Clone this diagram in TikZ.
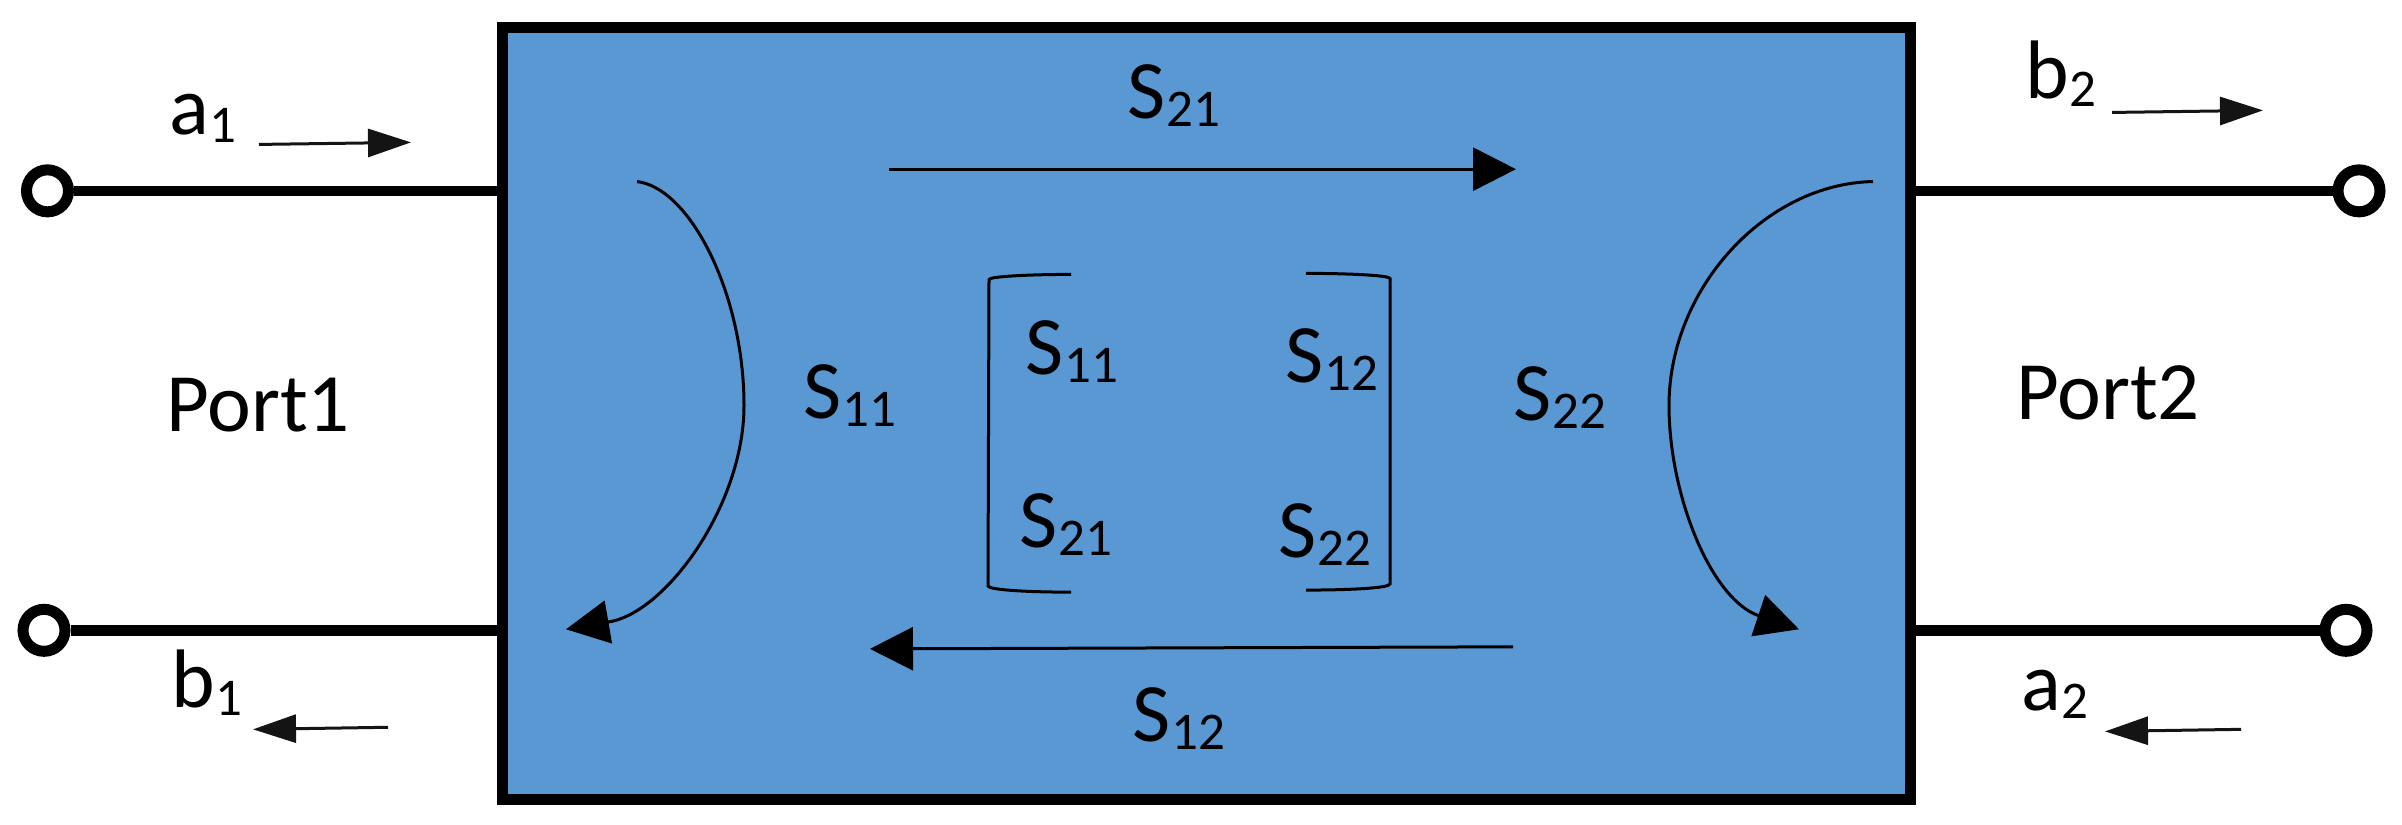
\documentclass[tikz,border=0pt]{standalone}
\usepackage{fontspec}
\setmainfont{Carlito}
\usetikzlibrary{arrows.meta}
\newcommand{\subdig}[1]{\raisebox{-8pt}{\fontsize{53}{55}\selectfont #1}}
\newcommand{\lbl}[2]{#1\kern1pt\subdig{#2}}
\tikzset{
  block/.style={draw=black,line width=11pt,fill=blockblue,minimum width=1408pt,minimum height=772.7pt,inner sep=0pt,anchor=north west},
  terminal/.style={circle,draw=black,line width=11pt,fill=white,minimum size=42pt,inner sep=0pt},
  wire/.style={line width=10.5pt,draw=black},
  txt/.style={anchor=base west,inner sep=0pt,xshift=-5pt,font=\fontsize{83}{86}\selectfont,text=black},
  small arrow/.style={line width=3pt,-{Triangle[length=43pt,width=28pt]},draw=black!92},
  big arrow/.style={line width=3pt,-{Triangle[length=43pt,width=43pt]},draw=black},
  bracket/.style={line width=3pt,draw=black}
}
\definecolor{blockblue}{HTML}{5A98D4}
\begin{document}
\begin{tikzpicture}[x=1pt,y=-1.0316pt]
\useasboundingbox (0,0) rectangle (2402,799.7);
\node[block] (box) at (497,21) {};
\node[terminal] (p1t) at (47.5,185) {};
\node[terminal] (p1b) at (44,611) {};
\node[terminal] (p2t) at (2359,185) {};
\node[terminal] (p2b) at (2346,611) {};
\draw[wire] (p1t) -- (p1t -| box.west);
\draw[wire] (p1b) -- (p1b -| box.west);
\draw[wire] (p2t) -- (p2t -| box.east);
\draw[wire] (p2b) -- (p2b -| box.east);
% small arrows
\coordinate (a1s) at (259,140); \coordinate (a1e) at (411,138);
\coordinate (b1s) at (388,705); \coordinate (b1e) at (253,707);
\coordinate (b2s) at (2112,109); \coordinate (b2e) at (2263,107);
\coordinate (a2s) at (2241,707); \coordinate (a2e) at (2105,709);
\draw[small arrow] (a1s) -- (a1e);
\draw[small arrow] (b1s) -- (b1e);
\draw[small arrow] (b2s) -- (b2e);
\draw[small arrow] (a2s) -- (a2e);
% straight block arrows
\coordinate (s21s) at (889,164); \coordinate (s21e) at (1516,164);
\coordinate (s12s) at (1513,627); \coordinate (s12e) at (870,629);
\draw[big arrow] (s21s) -- (s21e);
\draw[big arrow] (s12s) -- (s12e);
% curved arrows
\coordinate (c1s) at (637,176); \coordinate (c1m) at (744,393); \coordinate (c1b) at (608,603); \coordinate (c1e) at (566,610);
\coordinate (c2s) at (1873,176); \coordinate (c2m) at (1669,393); \coordinate (c2b) at (1759,597); \coordinate (c2e) at (1799,610);
\draw[big arrow] (c1s) .. controls (690,182) and (744,285) .. (c1m) .. controls (744,490) and (665,595) .. (c1b) -- (c1e);
\draw[big arrow] (c2s) .. controls (1765,178) and (1669,280) .. (c2m) .. controls (1669,480) and (1711,581) .. (c2b) -- (c2e);
% matrix brackets
\coordinate (bl1) at (1071,266); \coordinate (bl2) at (989,271); \coordinate (bl3) at (988,568); \coordinate (bl4) at (1071,574);
\coordinate (br1) at (1306,265); \coordinate (br2) at (1390,270); \coordinate (br3) at (1390,566); \coordinate (br4) at (1306,572);
\draw[bracket] (bl1) .. controls (1030,266) and (989,268) .. (bl2) -- (bl3) .. controls (989,572) and (1030,574) .. (bl4);
\draw[bracket] (br1) .. controls (1350,265) and (1390,267) .. (br2) -- (br3) .. controls (1390,570) and (1350,572) .. (br4);
% labels
\node[txt] (ta1) at (174,130) {\lbl{a}{1}};
\node[txt] (tb1) at (176,686) {\lbl{b}{1}};
\node[txt] (tb2) at (2030,95) {\lbl{b}{2}};
\node[txt] (ta2) at (2026,689) {\lbl{a}{2}};
\node[txt] (tp1) at (171,418) {Port1};
\node[txt] (tp2) at (2021,407) {Port2};
\node[txt] (ts21t) at (1132,115) {\lbl{S}{21}};
\node[txt] (ts12b) at (1137,719) {\lbl{S}{12}};
\node[txt] (ts11l) at (808,406) {\lbl{S}{11}};
\node[txt] (ts22r) at (1518,408) {\lbl{S}{22}};
\node[txt] (m11) at (1030,363) {\lbl{S}{11}};
\node[txt] (m12) at (1290,371) {\lbl{S}{12}};
\node[txt] (m21) at (1024.5,531) {\lbl{S}{21}};
\node[txt] (m22) at (1283,540) {\lbl{S}{22}};
\end{tikzpicture}
\end{document}
